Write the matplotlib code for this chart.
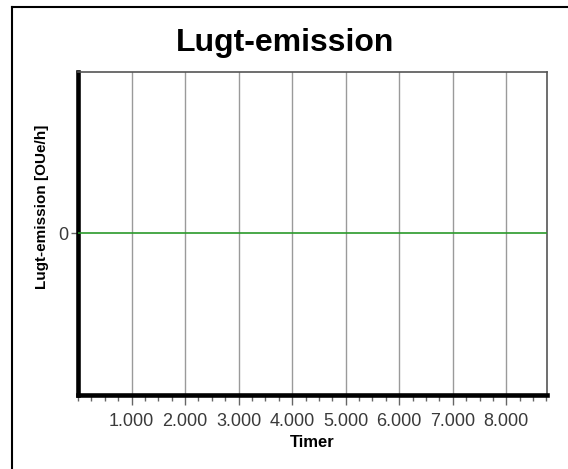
import matplotlib
matplotlib.use("Agg")
import matplotlib.pyplot as plt
from matplotlib.lines import Line2D
from matplotlib.ticker import MultipleLocator, FuncFormatter

# Data
hours = [0, 8760]
emission = [0, 0]
title = "Lugt-emission"
xlabel = "Timer"
ylabel = "Lugt-emission [OUe/h]"
xticks = [1000, 2000, 3000, 4000, 5000, 6000, 7000, 8000]

plt.rcParams['font.family'] = ['Liberation Sans', 'DejaVu Sans']

fig = plt.figure(figsize=(5.68, 4.69), dpi=100)
W, H = 568, 469
ax = fig.add_axes([78 / W, (H - 395) / H, (547 - 78) / W, (395 - 72) / H])

ax.plot(hours, emission, color='#2a9a2a', lw=1.2, zorder=3)
ax.set_xlim(0, 8760)
ax.set_ylim(-1, 1)

ax.set_xticks(xticks)
ax.xaxis.set_major_formatter(FuncFormatter(lambda v, p: f"{int(v):,}".replace(",", ".")))
ax.xaxis.set_minor_locator(MultipleLocator(250))
ax.set_yticks([0])
ax.set_yticklabels(["0"])
ax.grid(axis='x', which='major', color='#9a9a9a', lw=1.0)

ax.tick_params(axis='x', which='major', length=7, width=1, color='#666666', labelsize=13, labelcolor='#3a3a3a', pad=6, direction='out')
ax.tick_params(axis='x', which='minor', length=4, width=1, color='#666666')
ax.tick_params(axis='y', which='major', length=5, width=1, color='#666666', labelsize=13, labelcolor='#3a3a3a', pad=2)

for s in ['left', 'bottom']:
    ax.spines[s].set_linewidth(3.3)
    ax.spines[s].set_color('black')
    ax.spines[s].set_capstyle('projecting')
for s in ['top', 'right']:
    ax.spines[s].set_linewidth(1.2)
    ax.spines[s].set_color('#555555')

fig.text(285 / W, 1 - 43 / H, title, ha='center', va='center', fontsize=23, fontweight='bold')
fig.text(312 / W, 1 - 442 / H, xlabel, ha='center', va='center', fontsize=12, fontweight='bold')
fig.text(42 / W, 1 - 207 / H, ylabel, ha='center', va='center', fontsize=11, fontweight='bold', rotation=90)

# outer frame (left and top edges)
fig.add_artist(Line2D([12 / W, 12 / W], [0, 1 - 7 / H], transform=fig.transFigure, color='black', lw=1.5))
fig.add_artist(Line2D([12 / W, 1], [1 - 7 / H, 1 - 7 / H], transform=fig.transFigure, color='black', lw=1.5))

fig.savefig("out.png", dpi=100)
